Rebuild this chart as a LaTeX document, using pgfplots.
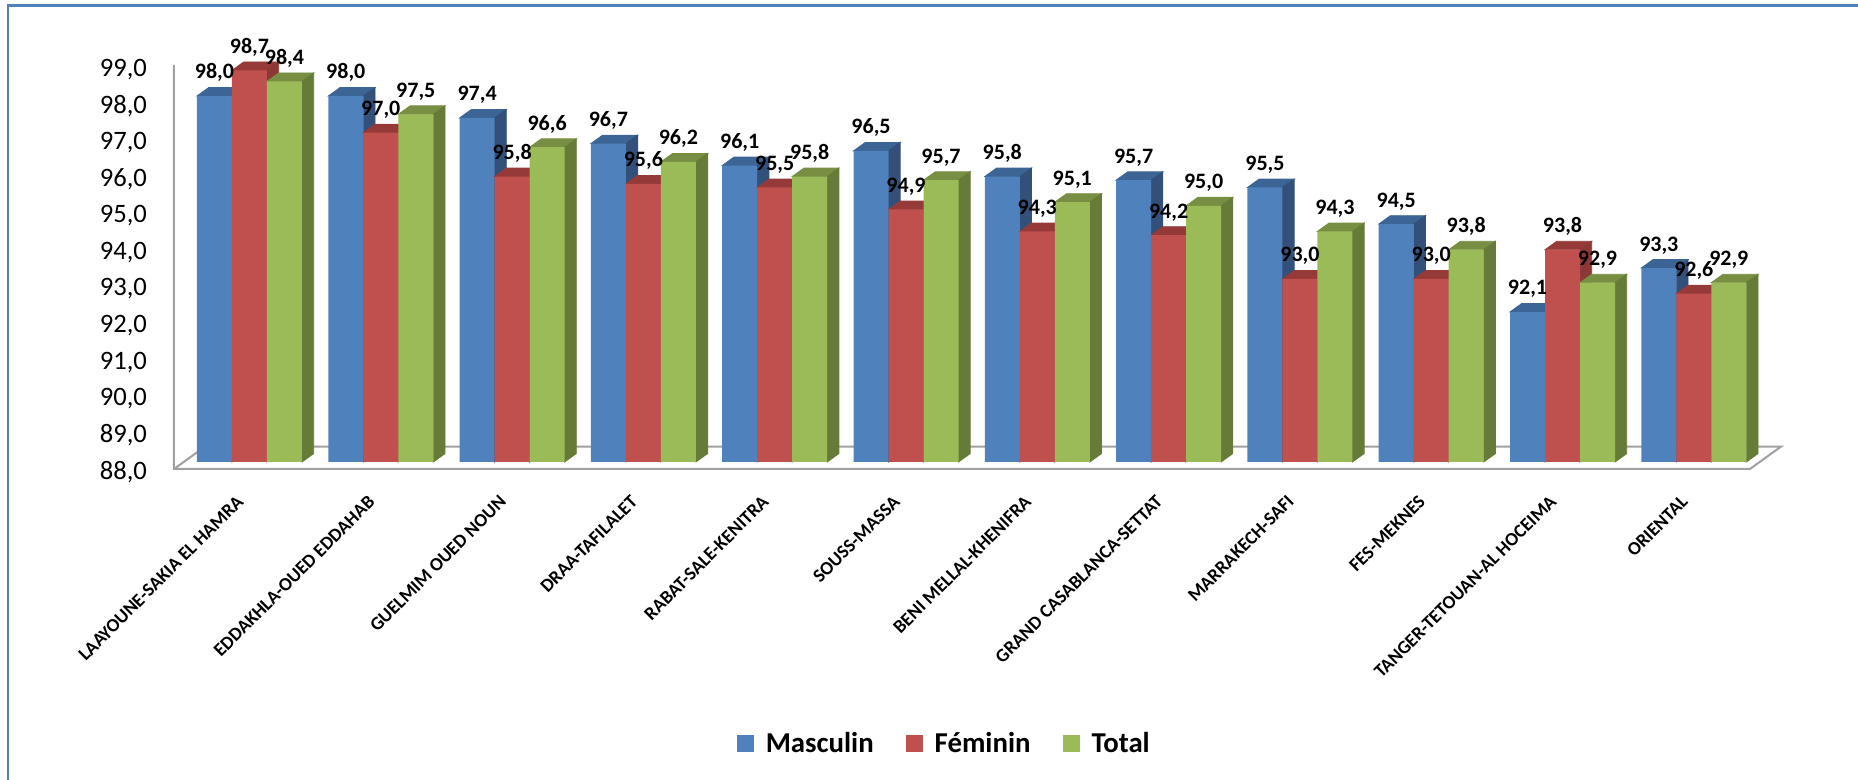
\documentclass[border=0pt]{standalone}
\usepackage{fontspec}
\setmainfont{Carlito}
\usepackage{pgfplots}
\usepackage{pgfplotstable}
\pgfplotsset{compat=1.18}

\definecolor{bluef}{HTML}{4F81BD}
\definecolor{bluet}{HTML}{3C6494}
\definecolor{blues}{HTML}{325079}
\definecolor{redf}{HTML}{C0504D}
\definecolor{redt}{HTML}{953A38}
\definecolor{reds}{HTML}{8C3836}
\definecolor{greenf}{HTML}{9BBB59}
\definecolor{greent}{HTML}{788F43}
\definecolor{greens}{HTML}{667B37}
\definecolor{floorc}{HTML}{A0A0A0}

% group  masculin feminin total
\pgfplotstableread{
x  m     f     t
0  98.0  98.7  98.4
1  98.0  97.0  97.5
2  97.4  95.8  96.6
3  96.7  95.6  96.2
4  96.1  95.5  95.8
5  96.5  94.9  95.7
6  95.8  94.3  95.1
7  95.7  94.2  95.0
8  95.5  93.0  94.3
9  94.5  93.0  93.8
10 92.1  93.8  92.9
11 93.3  92.6  92.9
}\regions

% top and side face of a bar, hung on the data point
\pgfplotsset{
  faces/.style n args={3}{
    forget plot, scatter, only marks, mark=none,
    visualization depends on={y \as \rawy},
    scatter/@pre marker code/.code={
      \pgfmathsetmacro\barh{(\rawy-88)*18.3}
      \fill[#2] (#1-8.75pt,0pt) -- ++(5.85pt,4.2pt) -- ++(17.5pt,0pt) -- ++(-5.85pt,-4.2pt) -- cycle;
      \fill[#3] (#1+8.75pt,0pt) -- ++(5.85pt,4.2pt) -- ++(0pt,-\barh pt) -- ++(-5.85pt,-4.2pt) -- cycle;
    },
    scatter/@post marker code/.code={},
  },
  front/.style n args={2}{
    ybar, bar width=17.5pt, bar shift=#1, draw=none, fill=#2,
  },
  vals/.style={
    forget plot, ybar, bar width=17.5pt, bar shift=#1, draw=none, fill=none,
    nodes near coords,
    every node near coord/.append style={xshift=#1},
  },
}

\begin{document}
\begin{tikzpicture}
  \path[use as bounding box] (0pt,0pt) rectangle (929pt,390pt);
  \draw[bluef, line width=1.3pt] (4pt,0pt) -- (4pt,387.2pt) -- (929pt,387.2pt);
  \begin{axis}[
      at={(87pt,159pt)}, anchor=south west,
      scale only axis, width=788pt, height=201.3pt,
      xmin=-0.575, xmax=11.428, ymin=88, ymax=99,
      clip=false, clip mode=individual,
      axis line style={draw=none},
      major tick length=0pt,
      ytick={88,89,...,99},
      xtick={0,...,11},
      /pgf/number format/fixed, /pgf/number format/fixed zerofill, /pgf/number format/precision=1,
      /pgf/number format/use comma, /pgf/number format/assume math mode=true,
      xticklabels={LAAYOUNE-SAKIA EL HAMRA,EDDAKHLA-OUED EDDAHAB,GUELMIM OUED NOUN,DRAA-TAFILALET,RABAT-SALE-KENITRA,SOUSS-MASSA,BENI MELLAL-KHENIFRA,GRAND CASABLANCA-SETTAT,MARRAKECH-SAFI,FES-MEKNES,TANGER-TETOUAN-AL HOCEIMA,ORIENTAL},
      xticklabel style={rotate=45, anchor=east, font=\bfseries\fontsize{9.4}{9.4}\selectfont, xshift=-12.8pt, yshift=-9.7pt},
      yticklabel style={font=\fontsize{13.3}{13.3}\selectfont, xshift=-10pt, yshift=-5pt},
      every node near coord/.append style={font=\bfseries\fontsize{11}{11}\selectfont, anchor=base, yshift=8.5pt},
      legend style={at={(0.4895,-0.70)}, anchor=center, draw=none, fill=none,
        legend columns=-1, font=\bfseries\fontsize{14.4}{14.4}\selectfont,
        /tikz/every even column/.style={column sep=14.2pt}},
      legend image code/.code={\fill[#1] (0pt,-4.25pt) rectangle (8.5pt,4.25pt); \path (12.3pt,0pt);},
    ]
    % floor and wall
    \addplot[floorc, line width=1pt, no marks, forget plot] coordinates {(-0.575,98.85) (-0.575,87.81) (11.428,87.81) (11.664,88.42) (-0.339,88.42) (-0.575,87.81)};

    \addplot[faces={-17.5pt}{bluet}{blues}] table[x=x,y=m] {\regions};
    \addplot[front={-17.5pt}{bluef}] table[x=x,y=m] {\regions};
    \addlegendentry{Masculin}
    \addplot[faces={0pt}{redt}{reds}] table[x=x,y=f] {\regions};
    \addplot[front={0pt}{redf}] table[x=x,y=f] {\regions};
    \addlegendentry{Féminin}
    \addplot[faces={17.5pt}{greent}{greens}] table[x=x,y=t] {\regions};
    \addplot[front={17.5pt}{greenf}] table[x=x,y=t] {\regions};
    \addlegendentry{Total}

    % labels last so that no bar hides them
    \addplot[vals=-17.5pt] table[x=x,y=m] {\regions};
    \addplot[vals=0pt] table[x=x,y=f] {\regions};
    \addplot[vals=17.5pt] table[x=x,y=t] {\regions};
  \end{axis}
\end{tikzpicture}
\end{document}
